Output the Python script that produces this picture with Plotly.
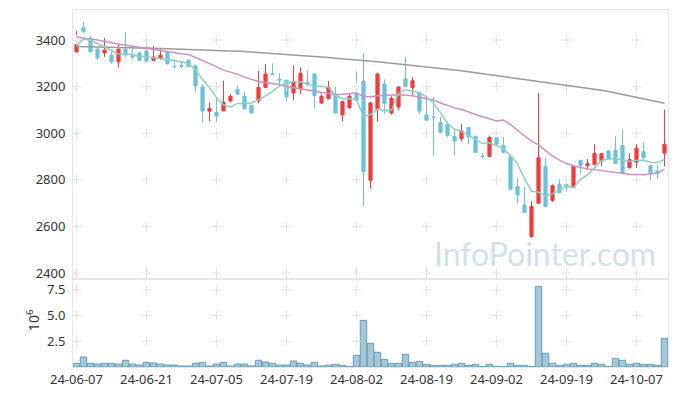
import plotly.graph_objects as go

dates = [
    "2024-06-07", "2024-06-10", "2024-06-11", "2024-06-12", "2024-06-13", "2024-06-14",
    "2024-06-17", "2024-06-18", "2024-06-19", "2024-06-20", "2024-06-21",
    "2024-06-24", "2024-06-25", "2024-06-26", "2024-06-27", "2024-06-28",
    "2024-07-01", "2024-07-02", "2024-07-03", "2024-07-04", "2024-07-05",
    "2024-07-08", "2024-07-09", "2024-07-10", "2024-07-11", "2024-07-12",
    "2024-07-15", "2024-07-16", "2024-07-17", "2024-07-18", "2024-07-19",
    "2024-07-22", "2024-07-23", "2024-07-24", "2024-07-25", "2024-07-26",
    "2024-07-29", "2024-07-30", "2024-07-31", "2024-08-01", "2024-08-02",
    "2024-08-05", "2024-08-06", "2024-08-07", "2024-08-08", "2024-08-09",
    "2024-08-12", "2024-08-13", "2024-08-14", "2024-08-16", "2024-08-19",
    "2024-08-20", "2024-08-21", "2024-08-22", "2024-08-23",
    "2024-08-26", "2024-08-27", "2024-08-28", "2024-08-29", "2024-08-30",
    "2024-09-02", "2024-09-03", "2024-09-04", "2024-09-05", "2024-09-06",
    "2024-09-09", "2024-09-10", "2024-09-11", "2024-09-12", "2024-09-13",
    "2024-09-19", "2024-09-20", "2024-09-23", "2024-09-24", "2024-09-25",
    "2024-09-26", "2024-09-27", "2024-09-30", "2024-10-02", "2024-10-04",
    "2024-10-07", "2024-10-08", "2024-10-10", "2024-10-11", "2024-10-14",
]

open_ = [3350, 3453, 3407, 3361, 3345, 3335, 3307, 3361, 3333, 3344,
         3353, 3313, 3321, 3347, 3287, 3290, 3313, 3290, 3199, 3095,
         3089, 3096, 3139, 3188, 3159, 3119, 3139, 3197, 3255, 3232,
         3228, 3173, 3191, 3219, 3254, 3130, 3148, 3168, 3079, 3110,
         3171, 3222, 2798, 3102, 3211, 3087, 3113, 3234, 3197, 3173,
         3079, 3070, 3047, 3039, 2987, 2978, 3025, 2987, 2902, 2901,
         2982, 2947, 2901, 2772, 2692, 2557, 2700, 2858, 2712, 2781,
         2781, 2769, 2884, 2861, 2867, 2881, 2924, 2927, 2947, 2852,
         2876, 2921, 2861, 2838, 2915]
high = [3440, 3479, 3418, 3365, 3410, 3350, 3381, 3433, 3364, 3350,
        3378, 3375, 3364, 3350, 3318, 3310, 3318, 3292, 3209, 3132,
        3149, 3226, 3168, 3205, 3178, 3122, 3268, 3297, 3300, 3258,
        3230, 3291, 3283, 3271, 3258, 3168, 3225, 3199, 3140, 3171,
        3266, 3345, 3135, 3260, 3231, 3159, 3200, 3327, 3242, 3175,
        3156, 3156, 3070, 3040, 3013, 3039, 3027, 2990, 2915, 2990,
        2985, 2984, 2905, 2809, 2769, 2709, 3173, 2895, 2781, 2804,
        2798, 2860, 2886, 2890, 2953, 2915, 2927, 2987, 3016, 2913,
        2953, 2961, 2861, 2864, 3102]
low = [3345, 3430, 3345, 3315, 3328, 3298, 3282, 3324, 3318, 3310,
       3304, 3310, 3315, 3295, 3278, 3280, 3285, 3175, 3046, 3052,
       3049, 3094, 3133, 3165, 3100, 3084, 3128, 3195, 3250, 3198,
       3136, 3142, 3168, 3205, 3105, 3125, 3145, 3085, 3050, 3105,
       3140, 2686, 2762, 3049, 3084, 3080, 3099, 3200, 3165, 3082,
       3054, 2901, 2999, 2984, 2904, 2967, 2953, 2915, 2892, 2898,
       2950, 2915, 2757, 2700, 2658, 2552, 2698, 2684, 2705, 2744,
       2749, 2767, 2829, 2844, 2865, 2858, 2887, 2868, 2830, 2850,
       2852, 2887, 2798, 2804, 2858]
close = [3381, 3436, 3350, 3324, 3357, 3307, 3361, 3341, 3327, 3313,
         3310, 3327, 3335, 3298, 3285, 3288, 3287, 3203, 3095, 3106,
         3074, 3133, 3159, 3168, 3105, 3087, 3197, 3254, 3252, 3228,
         3156, 3222, 3257, 3208, 3162, 3159, 3197, 3087, 3136, 3159,
         3142, 2835, 3130, 3254, 3128, 3151, 3199, 3202, 3225, 3096,
         3056, 3068, 3004, 2990, 2967, 3010, 2984, 2918, 2900, 2982,
         2953, 2918, 2760, 2735, 2660, 2686, 2895, 2686, 2775, 2746,
         2769, 2858, 2861, 2870, 2913, 2913, 2892, 2870, 2832, 2887,
         2936, 2895, 2829, 2827, 2953]

ma5 = [3376, 3405, 3400, 3385, 3370, 3355, 3340, 3338, 3339, 3330,
       3330, 3324, 3322, 3317, 3311, 3307, 3299, 3272, 3232, 3196,
       3153, 3122, 3113, 3128, 3128, 3130, 3143, 3162, 3179, 3203,
       3217, 3221, 3221, 3212, 3201, 3202, 3197, 3163, 3148, 3148,
       3144, 3072, 3080, 3104, 3098, 3100, 3172, 3187, 3181, 3175,
       3156, 3129, 3090, 3043, 3017, 3008, 2991, 2974, 2956, 2959,
       2947, 2934, 2903, 2870, 2805, 2752, 2747, 2732, 2740, 2758,
       2774, 2767, 2802, 2821, 2854, 2883, 2890, 2892, 2884, 2879,
       2883, 2884, 2876, 2875, 2888]
ma20 = [3413, 3410, 3405, 3400, 3393, 3388, 3383, 3378, 3373, 3369,
        3364, 3360, 3355, 3350, 3345, 3341, 3338, 3325, 3312, 3302,
        3286, 3271, 3262, 3254, 3241, 3230, 3222, 3218, 3214, 3209,
        3201, 3196, 3192, 3188, 3182, 3175, 3171, 3165, 3167, 3169,
        3173, 3158, 3157, 3161, 3162, 3165, 3165, 3163, 3161, 3155,
        3150, 3143, 3130, 3119, 3109, 3102, 3091, 3083, 3071, 3062,
        3053, 3057, 3038, 3012, 2989, 2966, 2950, 2925, 2902, 2885,
        2870, 2860, 2853, 2847, 2844, 2839, 2835, 2832, 2829, 2824,
        2823, 2822, 2825, 2830, 2845]
ma_long = [3372, 3371, 3371, 3370, 3369, 3369, 3368, 3368, 3367, 3366,
           3366, 3365, 3365, 3364, 3363, 3362, 3362, 3361, 3360, 3359,
           3358, 3357, 3355, 3353, 3351, 3349, 3347, 3345, 3343, 3341,
           3339, 3337, 3335, 3332, 3330, 3327, 3325, 3322, 3320, 3317,
           3315, 3312, 3310, 3307, 3304, 3301, 3298, 3295, 3292, 3288,
           3285, 3282, 3279, 3276, 3272, 3268, 3264, 3260, 3256, 3252,
           3248, 3244, 3240, 3236, 3232, 3228, 3224, 3220, 3215, 3211,
           3207, 3202, 3198, 3194, 3189, 3185, 3179, 3173, 3167, 3160,
           3154, 3148, 3141, 3135, 3129]

volume_m = [0.36, 0.97, 0.36, 0.29, 0.36, 0.36, 0.29, 0.65, 0.29, 0.19,
            0.45, 0.39, 0.29, 0.19, 0.19, 0.10, 0.10, 0.36, 0.45, 0.10,
            0.29, 0.45, 0.10, 0.29, 0.29, 0.10, 0.65, 0.49, 0.36, 0.19,
            0.19, 0.58, 0.36, 0.19, 0.45, 0.10, 0.19, 0.26, 0.16, 0.06,
            1.13, 4.53, 2.30, 1.43, 0.74, 0.36, 0.36, 1.23, 0.45, 0.55,
            0.26, 0.16, 0.16, 0.16, 0.26, 0.36, 0.16, 0.26, 0.06, 0.26,
            0.06, 0.02, 0.36, 0.16, 0.16, 0.06, 7.83, 1.33, 0.36, 0.16,
            0.26, 0.36, 0.16, 0.16, 0.36, 0.26, 0.06, 0.84, 0.65, 0.26,
            0.36, 0.26, 0.26, 0.16, 2.78]

x_tick_dates = ["2024-06-07", "2024-06-21", "2024-07-05", "2024-07-19", "2024-08-02",
                "2024-08-19", "2024-09-02", "2024-09-19", "2024-10-07"]
x_tick_text = ["24-06-07", "24-06-21", "24-07-05", "24-07-19", "24-08-02",
               "24-08-19", "24-09-02", "24-09-19", "24-10-07"]
price_ticks = [2400, 2600, 2800, 3000, 3200, 3400]
vol_ticks = [2.5, 5.0, 7.5]
vol_tick_text = ["2.5", "5.0", "7.5"]

RED = "#f03c3c"
BLUE = "#6cc2d9"
FONT = "Noto Sans"

fig = go.Figure()

# grid crosses
gx, gy = [], []
for d in x_tick_dates:
    for p in price_ticks:
        gx.append(d)
        gy.append(p)
fig.add_trace(go.Scatter(x=gx, y=gy, mode="markers", xaxis="x", yaxis="y",
                         marker=dict(symbol="cross-thin", size=7, line=dict(width=1, color="#e3e3e3")),
                         hoverinfo="skip", showlegend=False))
vx, vy = [], []
for d in x_tick_dates:
    for v in vol_ticks:
        vx.append(d)
        vy.append(v * 1e6)
fig.add_trace(go.Scatter(x=vx, y=vy, mode="markers", xaxis="x2", yaxis="y2",
                         marker=dict(symbol="cross-thin", size=7, line=dict(width=1, color="#e3e3e3")),
                         hoverinfo="skip", showlegend=False))

fig.add_trace(go.Scatter(x=dates, y=ma_long, mode="lines", xaxis="x", yaxis="y",
                         line=dict(color="#9a9a9a", width=1.5), showlegend=False))
fig.add_trace(go.Scatter(x=dates, y=ma20, mode="lines", xaxis="x", yaxis="y",
                         line=dict(color="#cf8fc6", width=1.5), showlegend=False))
fig.add_trace(go.Scatter(x=dates, y=ma5, mode="lines", xaxis="x", yaxis="y",
                         line=dict(color="#8ccfc4", width=1.5), showlegend=False))

fig.add_trace(go.Candlestick(
    x=dates, open=open_, high=high, low=low, close=close, xaxis="x", yaxis="y",
    increasing=dict(line=dict(color=RED, width=1), fillcolor=RED),
    decreasing=dict(line=dict(color=BLUE, width=1), fillcolor=BLUE),
    whiskerwidth=0, showlegend=False))

fig.add_trace(go.Bar(x=dates, y=[v * 1e6 for v in volume_m], xaxis="x2", yaxis="y2",
                     marker=dict(color="rgba(148,190,208,0.85)", line=dict(color="#6a9db6", width=1)),
                     showlegend=False))

axis_common = dict(showgrid=False, zeroline=False, showline=True, mirror=True,
                   linecolor="#e6e6e6", linewidth=1, automargin=False)

fig.update_layout(
    width=677, height=396,
    margin=dict(l=73, r=9, t=10, b=29, autoexpand=False),
    paper_bgcolor="white", plot_bgcolor="white",
    font=dict(family=FONT, size=13, color="#333333"),
    bargap=0.08, boxgap=0.35,
    xaxis=dict(axis_common, type="category", categoryorder="array", categoryarray=dates,
               range=[-0.5, len(dates) - 0.5], anchor="y", showticklabels=False,
               rangeslider=dict(visible=False), ticks=""),
    xaxis2=dict(axis_common, type="category", categoryorder="array", categoryarray=dates,
                range=[-0.5, len(dates) - 0.5], anchor="y2", matches="x",
                tickmode="array", tickvals=x_tick_dates, ticktext=x_tick_text, ticks=""),
    yaxis=dict(axis_common, domain=[0.248, 1.0], range=[2377, 3529], tickmode="array",
               tickvals=price_ticks, ticks="inside", ticklen=4, tickcolor="#dddddd",
               ticklabelstandoff=4),
    yaxis2=dict(axis_common, domain=[0.0, 0.244], range=[0, 8.47e6], tickmode="array",
                tickvals=[v * 1e6 for v in vol_ticks], ticktext=vol_tick_text,
                ticks="inside", ticklen=4, tickcolor="#dddddd", ticklabelstandoff=4),
    annotations=[
        dict(text="10<sup>6</sup>", xref="paper", yref="paper", x=-0.068, y=0.13,
             xanchor="center", yanchor="middle",
             textangle=-90, showarrow=False, font=dict(family=FONT, size=14, color="#333333")),
        dict(text="InfoPointer.com", xref="paper", yref="paper", x=0.983, y=0.318,
             xanchor="right", yanchor="middle", showarrow=False,
             font=dict(family="Lato", size=32, color="rgba(170,200,215,0.55)")),
    ],
)

fig.write_html("out.html", config={"displayModeBar": False},
               post_script="document.body.style.margin='0';")
